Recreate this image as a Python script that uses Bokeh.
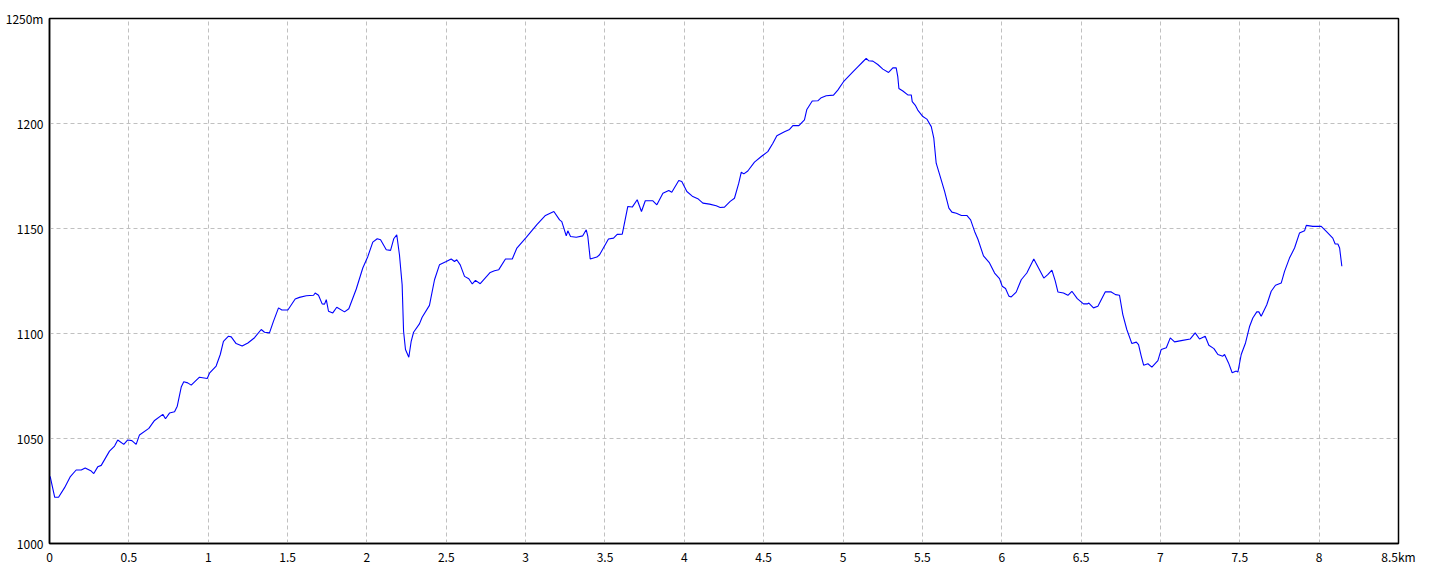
from bokeh.plotting import figure
from bokeh.models import Range1d, FixedTicker
from bokeh.embed import file_html
from bokeh.resources import INLINE

distance_km = [
    0.004, 0.033, 0.057, 0.095, 0.130, 0.168, 0.200, 0.225, 0.263, 0.279, 0.304, 0.326,
    0.378, 0.410, 0.430, 0.468, 0.493, 0.519, 0.546, 0.567, 0.626, 0.662, 0.714, 0.731,
    0.756, 0.788, 0.805, 0.830, 0.846, 0.871, 0.893, 0.945, 0.994, 1.008, 1.050, 1.076,
    1.096, 1.128, 1.145, 1.176, 1.214, 1.250, 1.292, 1.334, 1.355, 1.386, 1.411, 1.443,
    1.464, 1.502, 1.548, 1.575, 1.618, 1.664, 1.674, 1.695, 1.718, 1.733, 1.744, 1.758,
    1.785, 1.810, 1.859, 1.886, 1.933, 1.974, 2.006, 2.037, 2.065, 2.086, 2.122, 2.149,
    2.169, 2.188, 2.205, 2.222, 2.231, 2.243, 2.264, 2.279, 2.294, 2.331, 2.348, 2.394,
    2.426, 2.457, 2.500, 2.531, 2.552, 2.566, 2.588, 2.615, 2.642, 2.664, 2.684, 2.714,
    2.777, 2.804, 2.831, 2.873, 2.916, 2.945, 3.004, 3.071, 3.125, 3.178, 3.214, 3.228,
    3.256, 3.266, 3.283, 3.319, 3.360, 3.382, 3.392, 3.407, 3.449, 3.466, 3.522, 3.554,
    3.577, 3.609, 3.644, 3.672, 3.703, 3.730, 3.754, 3.802, 3.827, 3.865, 3.902, 3.921,
    3.965, 3.984, 4.016, 4.050, 4.085, 4.117, 4.159, 4.201, 4.226, 4.253, 4.289, 4.316,
    4.343, 4.359, 4.375, 4.400, 4.442, 4.485, 4.526, 4.558, 4.583, 4.631, 4.663, 4.684,
    4.722, 4.757, 4.772, 4.806, 4.841, 4.863, 4.894, 4.940, 4.967, 5.003, 5.062, 5.093,
    5.125, 5.146, 5.161, 5.188, 5.219, 5.251, 5.287, 5.314, 5.335, 5.345, 5.352, 5.377,
    5.408, 5.430, 5.436, 5.457, 5.471, 5.503, 5.528, 5.556, 5.572, 5.587, 5.612, 5.640,
    5.667, 5.686, 5.714, 5.746, 5.780, 5.804, 5.829, 5.850, 5.885, 5.923, 5.955, 5.986,
    6.003, 6.024, 6.045, 6.060, 6.091, 6.123, 6.158, 6.202, 6.232, 6.265, 6.290, 6.316,
    6.337, 6.354, 6.389, 6.417, 6.442, 6.476, 6.515, 6.539, 6.549, 6.578, 6.606, 6.652,
    6.690, 6.717, 6.742, 6.763, 6.788, 6.820, 6.848, 6.862, 6.879, 6.894, 6.921, 6.946,
    6.984, 7.005, 7.037, 7.062, 7.089, 7.131, 7.188, 7.219, 7.246, 7.282, 7.305, 7.337,
    7.362, 7.393, 7.404, 7.429, 7.452, 7.478, 7.488, 7.509, 7.536, 7.561, 7.582, 7.607,
    7.620, 7.635, 7.670, 7.698, 7.725, 7.761, 7.782, 7.813, 7.845, 7.876, 7.908, 7.919,
    7.960, 8.013, 8.045, 8.086, 8.101, 8.118, 8.129, 8.143,
]
elevation_m = [
    1032, 1022, 1022, 1026.6, 1031.7, 1035, 1035, 1036, 1034.5, 1033.3, 1036.5, 1037.2,
    1044, 1046.4, 1049.3, 1047.2, 1049.3, 1049, 1047.2, 1051.7, 1054.8, 1058.6, 1061.5, 1059.4,
    1062.1, 1062.7, 1065.4, 1074.5, 1077, 1076.5, 1075.4, 1079.2, 1078.6, 1081.1, 1084.5, 1090,
    1096.3, 1098.7, 1098.4, 1095.2, 1094, 1095.5, 1098, 1101.9, 1100.6, 1100.3, 1105.8, 1112.2,
    1111.2, 1111.2, 1116.4, 1117.2, 1118, 1118.2, 1119.3, 1118.2, 1114.1, 1114, 1116.1, 1110.6,
    1109.8, 1112.5, 1110.3, 1111.8, 1121.2, 1131.2, 1136.7, 1143.5, 1145.1, 1144.6, 1139.9, 1139.6,
    1145.1, 1147, 1137.5, 1123.2, 1101.1, 1092.4, 1088.7, 1096.3, 1100.6, 1104.6, 1107.7, 1113.4,
    1125.6, 1132.7, 1134.3, 1135.5, 1134.3, 1135.1, 1132.7, 1127.2, 1126.1, 1123.6, 1125.3, 1123.7,
    1129.1, 1129.9, 1130.4, 1135.5, 1135.5, 1140.7, 1145.8, 1151.8, 1156.2, 1158.1, 1154.1, 1153.3,
    1146.5, 1148.9, 1146.2, 1145.8, 1146.5, 1149.4, 1146.2, 1135.5, 1136.4, 1137.5, 1145, 1145.4,
    1147.2, 1147.3, 1160.5, 1160.2, 1163.7, 1158.1, 1163.2, 1163.2, 1161.3, 1166.8, 1168.1, 1167.3,
    1172.9, 1172.4, 1167.6, 1165.4, 1164.2, 1162.1, 1161.6, 1160.8, 1160, 1160.2, 1162.9, 1164.4,
    1171.6, 1176.8, 1176, 1177.4, 1181.6, 1184.3, 1186.6, 1190.6, 1194.2, 1196.1, 1197.2, 1199,
    1199, 1201.7, 1206.7, 1210.7, 1210.8, 1212.3, 1213.2, 1213.5, 1215.9, 1219.9, 1224.6, 1227,
    1229.4, 1231, 1229.9, 1229.7, 1228.1, 1225.9, 1224.3, 1226.5, 1226.5, 1222.3, 1216.7, 1215.5,
    1213.6, 1213.6, 1210.4, 1208.5, 1206.4, 1203.3, 1202.1, 1198.5, 1193, 1181.1, 1174.8, 1167.7,
    1159.7, 1157.8, 1157.3, 1156.2, 1156.2, 1154.1, 1148.6, 1144.9, 1137, 1133.6, 1128.8, 1126.1,
    1122.5, 1121.4, 1117.8, 1117.4, 1119.7, 1125.6, 1128.8, 1135.5, 1131.2, 1126.4, 1128, 1130.2,
    1125.1, 1119.8, 1119.3, 1118.2, 1120.1, 1116.6, 1114.1, 1114.1, 1114.5, 1112.2, 1113, 1119.8,
    1119.8, 1118.5, 1118.2, 1109, 1101.9, 1095.2, 1095.9, 1094.7, 1089.2, 1084.9, 1085.6, 1084,
    1087.1, 1092.4, 1093.2, 1097.9, 1096, 1096.6, 1097.4, 1100.3, 1097.4, 1098.7, 1094.4, 1092.8,
    1090, 1089.2, 1090, 1086, 1081.3, 1082.1, 1081.6, 1090, 1095.5, 1103.2, 1107.4, 1110.3,
    1110.3, 1108.2, 1113.7, 1120.1, 1123, 1124, 1129.6, 1135.9, 1140.7, 1147.8, 1148.9, 1151.5,
    1151, 1151, 1148.6, 1145.4, 1142.6, 1142.6, 1140.7, 1132,
]

x_ticks = [0, 0.5, 1, 1.5, 2, 2.5, 3, 3.5, 4, 4.5, 5, 5.5, 6, 6.5, 7, 7.5, 8, 8.5]
x_tick_labels = ["0", "0.5", "1", "1.5", "2", "2.5", "3", "3.5", "4", "4.5", "5", "5.5",
                 "6", "6.5", "7", "7.5", "8", "8.5km"]
y_ticks = [1000, 1050, 1100, 1150, 1200, 1250]
y_tick_labels = ["1000", "1050", "1100", "1150", "1200", "1250m"]

FONT = "Noto Sans CJK JP"

p = figure(width=1431, height=567, output_backend="svg", toolbar_location=None,
           x_range=Range1d(0, 8.5), y_range=Range1d(1000, 1250),
           min_border_left=49, min_border_right=33, min_border_top=18, min_border_bottom=22)

p.line(distance_km, elevation_m, line_color="#0000FF", line_width=1.1)

p.outline_line_color = "black"
p.outline_line_width = 1.5
p.outline_line_alpha = 1.0
p.background_fill_color = "white"
p.border_fill_color = "white"

p.xaxis.ticker = FixedTicker(ticks=x_ticks)
p.yaxis.ticker = FixedTicker(ticks=y_ticks)
p.xaxis.major_label_overrides = {t: l for t, l in zip(x_ticks, x_tick_labels)}
p.yaxis.major_label_overrides = {t: l for t, l in zip(y_ticks, y_tick_labels)}

for ax in (p.xaxis, p.yaxis):
    ax.axis_line_color = "black"
    ax.axis_line_width = 1.5
    ax.major_tick_line_color = None
    ax.minor_tick_line_color = None
    ax.major_tick_in = 0
    ax.major_tick_out = 0
    ax.major_label_text_font = FONT
    ax.major_label_text_font_size = "12px"
    ax.major_label_text_color = "black"
p.xaxis.major_label_standoff = 4
p.yaxis.major_label_standoff = 6

for g in (p.xgrid, p.ygrid):
    g.grid_line_color = "#C0C0C0"
    g.grid_line_dash = "4 3"
    g.grid_line_width = 1

open("out.html", "w").write(file_html(p, INLINE))
